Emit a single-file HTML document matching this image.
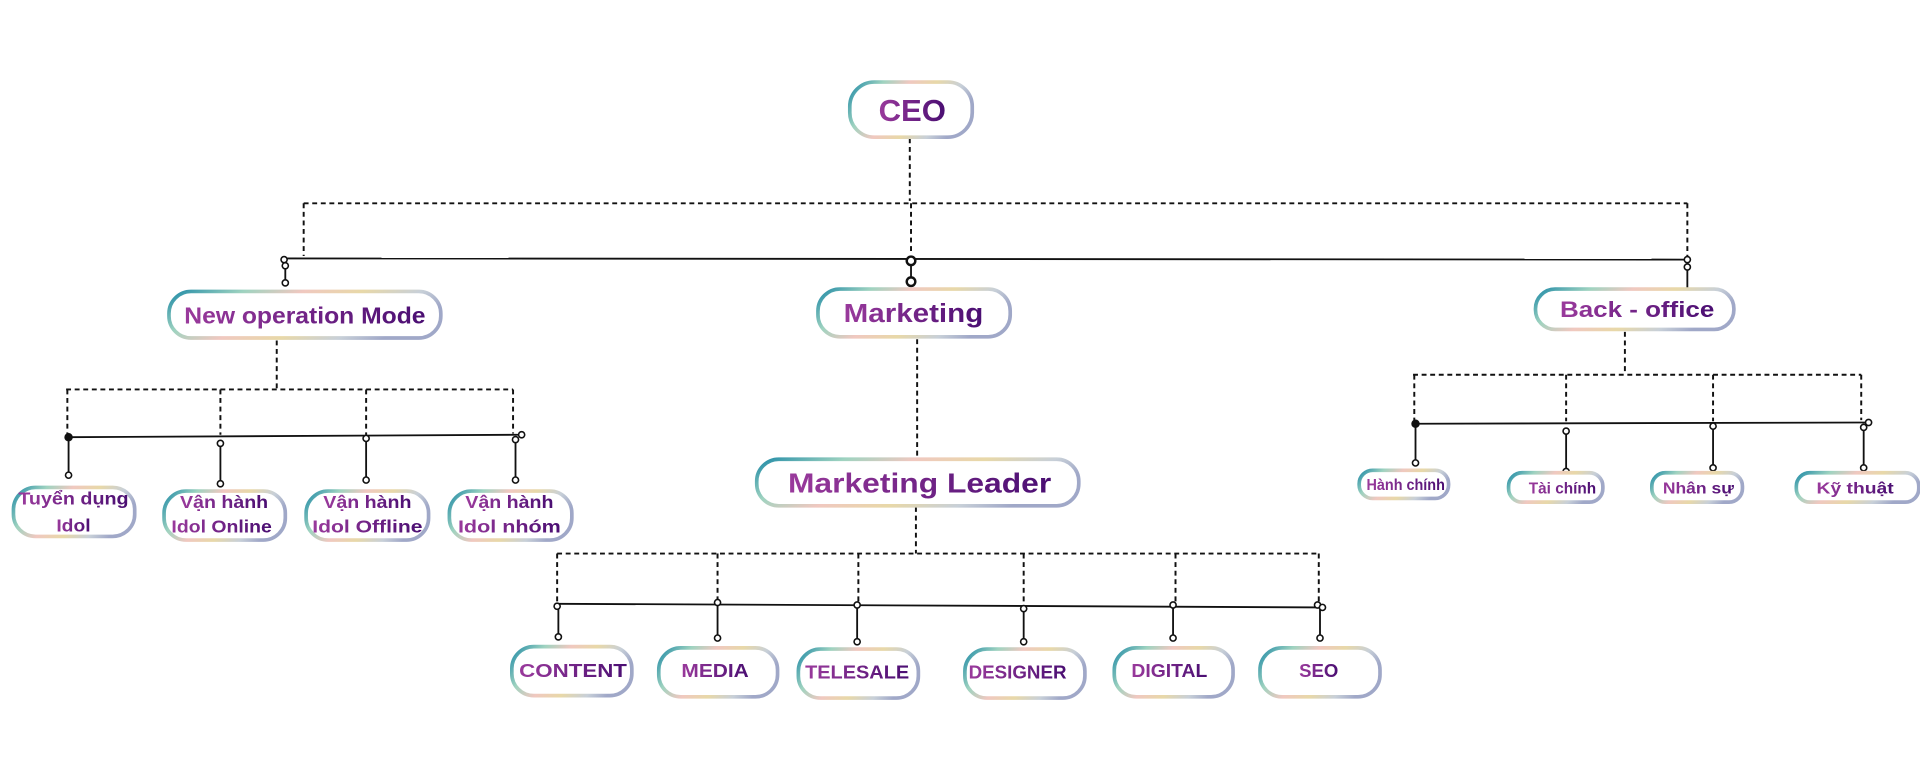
<!DOCTYPE html>
<html><head><meta charset="utf-8">
<style>
html,body{margin:0;padding:0;background:#fff;}
svg{display:block;}
text{font-family:"Liberation Sans","DejaVu Sans",sans-serif;font-weight:bold;}
</style></head>
<body>
<svg width="1920" height="774" viewBox="0 0 1568 632" preserveAspectRatio="none" xmlns="http://www.w3.org/2000/svg">
<defs>
<linearGradient id="bd" x1="0" y1="0" x2="1" y2="0.3">
<stop offset="0" stop-color="#1f8aa6"/>
<stop offset="0.25" stop-color="#9fd3c0"/>
<stop offset="0.45" stop-color="#f0c8c0"/>
<stop offset="0.65" stop-color="#e8d8a8"/>
<stop offset="0.85" stop-color="#c8d0d8"/>
<stop offset="1" stop-color="#a0a8c8"/>
</linearGradient>
<linearGradient id="tx" x1="0" y1="0" x2="1" y2="0">
<stop offset="0" stop-color="#9a3a9c"/>
<stop offset="1" stop-color="#4a0e72"/>
</linearGradient>
</defs>

<!-- connectors -->
<g stroke="#111" fill="none">
<g stroke-width="1.6" stroke-dasharray="4,3">
<line x1="743" y1="113" x2="743" y2="164"/>
<line x1="248" y1="166" x2="1378" y2="166"/>
<line x1="248" y1="166" x2="248" y2="209"/>
<line x1="744" y1="166" x2="744" y2="208"/>
<line x1="1378" y1="166" x2="1378" y2="210"/>
<line x1="226" y1="278" x2="226" y2="318"/>
<line x1="54" y1="318" x2="419" y2="318"/>
<line x1="55" y1="318" x2="55" y2="355"/>
<line x1="180" y1="318" x2="180" y2="355"/>
<line x1="299" y1="318" x2="299" y2="355"/>
<line x1="419" y1="318" x2="419" y2="354"/>
<line x1="749" y1="277" x2="749" y2="372"/>
<line x1="748" y1="414" x2="748" y2="452"/>
<line x1="455" y1="452" x2="1077" y2="452"/>
<line x1="455" y1="452" x2="455" y2="491"/>
<line x1="586" y1="452" x2="586" y2="490"/>
<line x1="701" y1="452" x2="701" y2="491"/>
<line x1="836" y1="452" x2="836" y2="494"/>
<line x1="960" y1="452" x2="960" y2="492"/>
<line x1="1077" y1="452" x2="1077" y2="493"/>
<line x1="1327" y1="271" x2="1327" y2="306"/>
<line x1="1154" y1="306" x2="1520" y2="306"/>
<line x1="1155" y1="306" x2="1155" y2="344"/>
<line x1="1279" y1="306" x2="1279" y2="344"/>
<line x1="1399" y1="306" x2="1399" y2="344"/>
<line x1="1520" y1="306" x2="1520" y2="343"/>
</g>
<g stroke-width="1.5">
<line x1="232" y1="211" x2="1378" y2="212"/>
<line x1="233" y1="217" x2="233" y2="231"/>
<line x1="744" y1="213" x2="744" y2="230"/>
<line x1="1378" y1="218" x2="1378" y2="235"/>
<line x1="55" y1="357" x2="425" y2="355"/>
<line x1="56" y1="358" x2="56" y2="388"/>
<line x1="180" y1="362" x2="180" y2="392"/>
<line x1="299" y1="358" x2="299" y2="392"/>
<line x1="421" y1="360" x2="421" y2="392"/>
<line x1="455" y1="493" x2="1080" y2="496"/>
<line x1="456" y1="495" x2="456" y2="520"/>
<line x1="586" y1="492" x2="586" y2="521"/>
<line x1="700" y1="494" x2="700" y2="524"/>
<line x1="836" y1="496" x2="836" y2="524"/>
<line x1="958" y1="494" x2="958" y2="521"/>
<line x1="1078" y1="496" x2="1078" y2="521"/>
<line x1="1156" y1="346" x2="1524" y2="345"/>
<line x1="1156" y1="346" x2="1156" y2="378"/>
<line x1="1279" y1="352" x2="1279" y2="385"/>
<line x1="1399" y1="348" x2="1399" y2="382"/>
<line x1="1522" y1="348" x2="1522" y2="382"/>
</g>
<g stroke-width="1.3" fill="#fff">
<circle cx="232" cy="212" r="2.5"/><circle cx="233" cy="217" r="2.5"/><circle cx="233" cy="231" r="2.5"/>
<circle cx="744" cy="213" r="3.5" stroke-width="2"/><circle cx="744" cy="230" r="3.5" stroke-width="2"/>
<circle cx="1378" cy="212" r="2.5"/><circle cx="1378" cy="218" r="2.5"/>
<circle cx="56" cy="357" r="2.8" fill="#111"/><circle cx="56" cy="388" r="2.5"/>
<circle cx="180" cy="362" r="2.5"/><circle cx="180" cy="395" r="2.5"/>
<circle cx="299" cy="358" r="2.5"/><circle cx="299" cy="392" r="2.5"/>
<circle cx="426" cy="355" r="2.5"/><circle cx="421" cy="359" r="2.5"/><circle cx="421" cy="392" r="2.5"/>
<circle cx="455" cy="495" r="2.5"/><circle cx="456" cy="520" r="2.5"/>
<circle cx="586" cy="492" r="2.5"/><circle cx="586" cy="521" r="2.5"/>
<circle cx="700" cy="494" r="2.5"/><circle cx="700" cy="524" r="2.5"/>
<circle cx="836" cy="497" r="2.5"/><circle cx="836" cy="524" r="2.5"/>
<circle cx="958" cy="494" r="2.5"/><circle cx="958" cy="521" r="2.5"/>
<circle cx="1076" cy="494" r="2.5"/><circle cx="1080" cy="496" r="2.5"/><circle cx="1078" cy="521" r="2.5"/>
<circle cx="1156" cy="346" r="2.8" fill="#111"/><circle cx="1156" cy="378" r="2.5"/>
<circle cx="1279" cy="352" r="2.5"/><circle cx="1279" cy="385" r="2.5"/>
<circle cx="1399" cy="348" r="2.5"/><circle cx="1399" cy="382" r="2.5"/>
<circle cx="1526" cy="345" r="2.5"/><circle cx="1522" cy="349" r="2.5"/><circle cx="1522" cy="382" r="2.5"/>
</g>
</g>

<!-- boxes -->
<g fill="#fff" stroke="url(#bd)" stroke-width="3">
<rect x="694" y="67" width="100" height="45" rx="20"/>
<rect x="138" y="238" width="222" height="38" rx="18"/>
<rect x="668" y="236" width="157" height="39" rx="18"/>
<rect x="1254" y="236" width="162" height="33" rx="16"/>
<rect x="618" y="375" width="263" height="38" rx="18"/>
<rect x="11" y="398" width="99" height="40" rx="18"/>
<rect x="134" y="401" width="99" height="40" rx="18"/>
<rect x="250" y="401" width="100" height="40" rx="18"/>
<rect x="367" y="401" width="100" height="40" rx="18"/>
<rect x="418" y="528" width="98" height="40" rx="18"/>
<rect x="538" y="529" width="97" height="40" rx="18"/>
<rect x="652" y="530" width="98" height="40" rx="18"/>
<rect x="788" y="530" width="98" height="40" rx="18"/>
<rect x="910" y="529" width="97" height="40" rx="18"/>
<rect x="1029" y="529" width="98" height="40" rx="18"/>
<rect x="1110" y="384" width="73" height="23" rx="11"/>
<rect x="1232" y="386" width="77" height="24" rx="11"/>
<rect x="1349" y="386" width="74" height="24" rx="11"/>
<rect x="1467" y="386" width="100" height="24" rx="11"/>
</g>

<!-- text -->
<g fill="url(#tx)" text-anchor="middle">
<text x="745" y="99" font-size="25" textLength="55" lengthAdjust="spacingAndGlyphs">CEO</text>
<text x="249" y="264" font-size="19" textLength="197" lengthAdjust="spacingAndGlyphs">New operation Mode</text>
<text x="746" y="263" font-size="21" textLength="114" lengthAdjust="spacingAndGlyphs">Marketing</text>
<text x="1337" y="259" font-size="18" textLength="126" lengthAdjust="spacingAndGlyphs">Back - office</text>
<text x="751" y="402" font-size="23" textLength="215" lengthAdjust="spacingAndGlyphs">Marketing Leader</text>
<text x="60" y="412" font-size="14" textLength="90" lengthAdjust="spacingAndGlyphs">Tuyển dụng</text>
<text x="60" y="434" font-size="14" textLength="28" lengthAdjust="spacingAndGlyphs">Idol</text>
<text x="183" y="415" font-size="14" textLength="72" lengthAdjust="spacingAndGlyphs">Vận hành</text>
<text x="181" y="435" font-size="14" textLength="82" lengthAdjust="spacingAndGlyphs">Idol Online</text>
<text x="300" y="415" font-size="14" textLength="72" lengthAdjust="spacingAndGlyphs">Vận hành</text>
<text x="300" y="435" font-size="14" textLength="90" lengthAdjust="spacingAndGlyphs">Idol Offline</text>
<text x="416" y="415" font-size="14" textLength="72" lengthAdjust="spacingAndGlyphs">Vận hành</text>
<text x="416" y="435" font-size="14" textLength="84" lengthAdjust="spacingAndGlyphs">Idol nhóm</text>
<text x="468" y="553" font-size="15" textLength="88" lengthAdjust="spacingAndGlyphs">CONTENT</text>
<text x="584" y="553" font-size="15" textLength="55" lengthAdjust="spacingAndGlyphs">MEDIA</text>
<text x="700" y="554" font-size="15" textLength="85" lengthAdjust="spacingAndGlyphs">TELESALE</text>
<text x="831" y="554" font-size="15" textLength="80" lengthAdjust="spacingAndGlyphs">DESIGNER</text>
<text x="955" y="553" font-size="15" textLength="62" lengthAdjust="spacingAndGlyphs">DIGITAL</text>
<text x="1077" y="553" font-size="15" textLength="32" lengthAdjust="spacingAndGlyphs">SEO</text>
<text x="1148" y="400" font-size="13" textLength="64" lengthAdjust="spacingAndGlyphs">Hành chính</text>
<text x="1276" y="403" font-size="13" textLength="55" lengthAdjust="spacingAndGlyphs">Tài chính</text>
<text x="1387" y="403" font-size="13" textLength="58" lengthAdjust="spacingAndGlyphs">Nhân sự</text>
<text x="1515" y="403" font-size="13" textLength="63" lengthAdjust="spacingAndGlyphs">Kỹ thuật</text>
</g>
</svg>
</body></html>
